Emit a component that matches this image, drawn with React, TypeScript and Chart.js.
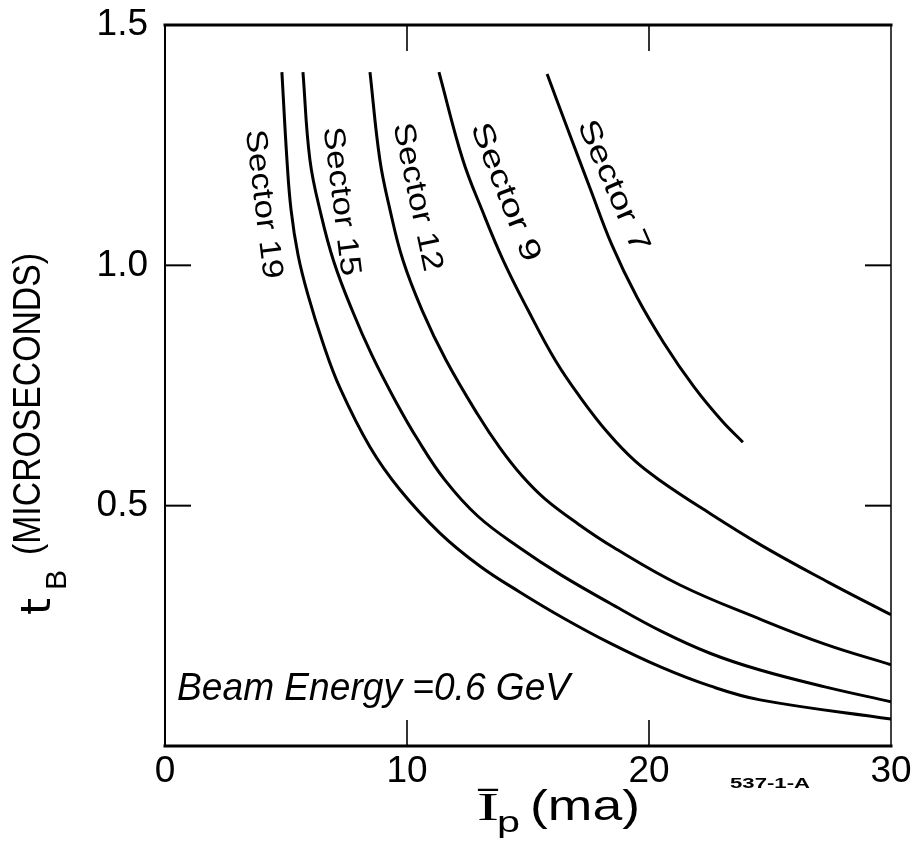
import React, { useEffect, useRef } from "react";
import { Chart, registerables } from "chart.js";

Chart.register(...registerables);

// ---- data ----
const sectorNames = ["Sector 19", "Sector 15", "Sector 12", "Sector 9", "Sector 7"];

const sector19X = [4.83, 5.04, 5.21, 5.5, 5.91, 6.53, 7.23, 8.47, 9.71, 11.36, 13.02, 14.67, 16.4, 18.39, 20.5, 22.52, 24.59, 30];
const sector19Y = [1.402, 1.219, 1.115, 1.021, 0.938, 0.838, 0.745, 0.622, 0.533, 0.443, 0.374, 0.32, 0.268, 0.214, 0.164, 0.125, 0.096, 0.056];

const sector15X = [5.7, 5.99, 6.45, 6.98, 7.73, 8.55, 9.5, 10.45, 11.57, 12.93, 14.67, 16.36, 18.39, 20.5, 22.52, 24.59, 27.27, 30];
const sector15Y = [1.402, 1.219, 1.105, 1.007, 0.907, 0.813, 0.72, 0.637, 0.553, 0.478, 0.412, 0.356, 0.297, 0.239, 0.193, 0.158, 0.123, 0.092];

const sector12X = [8.47, 8.88, 9.3, 9.83, 10.62, 11.61, 12.93, 13.84, 14.75, 15.7, 17.07, 18.51, 21.28, 24.59, 27.27, 30];
const sector12Y = [1.402, 1.219, 1.115, 1.011, 0.907, 0.803, 0.689, 0.62, 0.562, 0.514, 0.462, 0.414, 0.335, 0.264, 0.212, 0.169];

const sector9X = [11.32, 12.31, 13.1, 13.97, 15.0, 16.12, 17.15, 18.31, 19.42, 20.5, 22.11, 24.63, 27.4, 30];
const sector9Y = [1.402, 1.219, 1.115, 1.011, 0.907, 0.803, 0.726, 0.651, 0.593, 0.551, 0.497, 0.418, 0.341, 0.273];

const sector7X = [15.79, 16.65, 17.56, 18.47, 19.5, 20.62, 21.86, 23.02, 23.88];
const sector7Y = [1.398, 1.282, 1.161, 1.042, 0.934, 0.838, 0.747, 0.676, 0.632];

const xTickValues = [0, 10, 20, 30];
const yTickValues = [0.5, 1.0, 1.5];
const innerTickX = [10, 20];
const innerTickY = [0.5, 1.0];

const noteText = "Beam Energy =0.6 GeV";
const xTitleMain = "Ī";
const xTitleSub = "p";
const xTitleUnit = "(ma)";
const yTitleMain = "t";
const yTitleSub = "B";
const yTitleUnit = "(MICROSECONDS)";
const figureCode = "537-1-A";

// label anchors in data units (x, y) with rotation (deg) and length (px)
const labelAnchorX = [4.05, 7.27, 10.41, 14.05, 18.51];
const labelAnchorY = [1.127, 1.133, 1.142, 1.152, 1.165];
const labelAngle = [83, 83, 78, 68.5, 66.5];
const labelLength = [150, 150, 151, 147, 141];

const SANS = '"Liberation Sans", Arial, sans-serif';
const SERIF = '"Liberation Serif", "DejaVu Serif", serif';

function toPoints(xs: number[], ys: number[]) {
  return xs.map((x, i) => ({ x, y: ys[i] }));
}

function drawFitted(
  ctx: CanvasRenderingContext2D,
  text: string,
  x: number,
  y: number,
  width: number,
  font: string
) {
  ctx.save();
  ctx.font = font;
  const m = ctx.measureText(text).width;
  ctx.translate(x, y);
  ctx.scale(width / m, 1);
  ctx.textAlign = "left";
  ctx.textBaseline = "alphabetic";
  ctx.fillText(text, 0, 0);
  ctx.restore();
}

const decorPlugin = {
  id: "decor",
  afterDatasetsDraw(chart: any) {
    const { ctx, chartArea: a, scales } = chart;
    const xs = scales.x;
    const ys = scales.y;
    ctx.save();
    ctx.strokeStyle = "#000";
    ctx.fillStyle = "#000";
    ctx.lineCap = "square";

    const seg = (x1: number, y1: number, x2: number, y2: number, w: number) => {
      ctx.beginPath();
      ctx.lineWidth = w;
      ctx.moveTo(x1, y1);
      ctx.lineTo(x2, y2);
      ctx.stroke();
    };
    // frame
    seg(a.left, a.top, a.right, a.top, 3);
    seg(a.left, a.top, a.left, a.bottom, 2);
    seg(a.left, a.bottom, a.right, a.bottom, 3);
    seg(a.right, a.top, a.right, a.bottom, 1.5);

    // inward ticks
    ctx.lineCap = "butt";
    innerTickX.forEach((v) => {
      const px = xs.getPixelForValue(v);
      seg(px, a.bottom, px, a.bottom - 26, 1.6);
      seg(px, a.top, px, a.top + 26, 1.6);
    });
    innerTickY.forEach((v) => {
      const py = ys.getPixelForValue(v);
      seg(a.left, py, a.left + 26, py, 2);
      seg(a.right, py, a.right - 26, py, 2);
    });

    // sector labels
    sectorNames.forEach((name, i) => {
      const px = xs.getPixelForValue(labelAnchorX[i]);
      const py = ys.getPixelForValue(labelAnchorY[i]);
      ctx.save();
      ctx.translate(px, py);
      ctx.rotate((labelAngle[i] * Math.PI) / 180);
      ctx.font = `30px ${SANS}`;
      const m = ctx.measureText(name).width;
      ctx.scale(labelLength[i] / m, 1);
      ctx.textAlign = "center";
      ctx.textBaseline = "middle";
      ctx.fillText(name, 0, 0);
      ctx.restore();
    });

    // beam energy note
    {
      const px = xs.getPixelForValue(0.5);
      const py = ys.getPixelForValue(0.096);
      drawFitted(ctx, noteText, px, py, 393, `italic 39px ${SANS}`);
    }

    // y axis title (rotated)
    {
      const L = a.left;
      const B = a.bottom;
      ctx.save();
      ctx.rotate(-Math.PI / 2);
      // in rotated frame: (u, v) -> screen (v, -u)
      drawFitted(ctx, yTitleMain, -(B - 131), L - 115, 17, `40px "DejaVu Sans", sans-serif`);
      drawFitted(ctx, yTitleSub, -(B - 156), L - 99, 20, `30px ${SANS}`);
      drawFitted(ctx, yTitleUnit, -(B - 191), L - 125, 302, `38px ${SANS}`);
      ctx.restore();
    }

    // x axis title
    {
      const B = a.bottom;
      drawFitted(ctx, xTitleMain, 477, B + 74, 22, `40px ${SERIF}`);
      drawFitted(ctx, xTitleSub, 497, B + 86, 23, `30px ${SANS}`);
      drawFitted(ctx, xTitleUnit, 530, B + 74, 110, `42px ${SANS}`);
      drawFitted(ctx, figureCode, 730, B + 42, 80, `bold 14px ${SANS}`);
    }
    ctx.restore();
  },
};

export default function App() {
  const canvasRef = useRef<HTMLCanvasElement | null>(null);

  useEffect(() => {
    document.body.style.margin = "0";
    document.body.style.overflow = "hidden";
    const canvas = canvasRef.current;
    if (!canvas) return;

    const series = [
      toPoints(sector19X, sector19Y),
      toPoints(sector15X, sector15Y),
      toPoints(sector12X, sector12Y),
      toPoints(sector9X, sector9Y),
      toPoints(sector7X, sector7Y),
    ];

    const chart = new Chart(canvas, {
      type: "scatter",
      data: {
        datasets: series.map((pts, i) => ({
          label: sectorNames[i],
          data: pts,
          showLine: true,
          borderColor: "#000",
          backgroundColor: "#000",
          borderWidth: 3,
          pointRadius: 0,
          tension: 0.4,
        })),
      },
      options: {
        animation: false,
        responsive: false,
        maintainAspectRatio: false,
        layout: { padding: { top: 25, right: 31, left: 0, bottom: 0 } },
        plugins: {
          legend: { display: false },
          tooltip: { enabled: false },
          title: { display: false },
        },
        scales: {
          x: {
            type: "linear",
            min: 0,
            max: 30,
            afterBuildTicks: (scale: any) => {
              scale.ticks = xTickValues.map((v) => ({ value: v }));
            },
            afterFit: (scale: any) => {
              scale.height = 120;
              scale.paddingLeft = 0;
              scale.paddingRight = 0;
            },
            grid: { display: false, drawTicks: false },
            border: { display: false },
            ticks: {
              color: "#000",
              padding: 4,
              maxRotation: 0,
              font: { family: SANS, size: 37 },
              callback: (v: any) => String(v),
            },
          },
          y: {
            type: "linear",
            min: 0,
            max: 1.5,
            afterBuildTicks: (scale: any) => {
              scale.ticks = yTickValues.map((v) => ({ value: v }));
            },
            afterFit: (scale: any) => {
              scale.width = 165;
              scale.paddingTop = 0;
              scale.paddingBottom = 0;
            },
            grid: { display: false, drawTicks: false },
            border: { display: false },
            ticks: {
              color: "#000",
              padding: 17,
              font: { family: SANS, size: 37 },
              callback: (v: any) => Number(v).toFixed(1),
            },
          },
        },
      },
      plugins: [decorPlugin],
    });

    return () => {
      chart.destroy();
    };
  }, []);

  return (
    <div style={{ width: 922, height: 866, background: "#fff" }}>
      <canvas ref={canvasRef} width={922} height={866} style={{ display: "block" }} />
    </div>
  );
}
